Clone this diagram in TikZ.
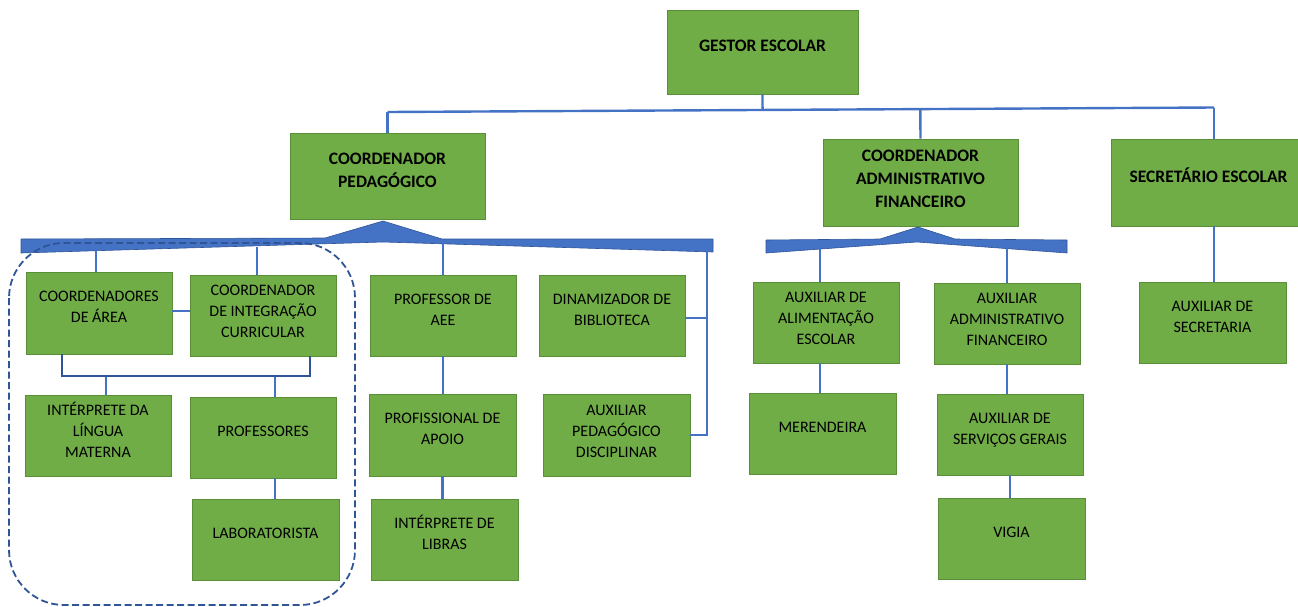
\documentclass[tikz,border=0pt]{standalone}
\usepackage{fontspec}
\setmainfont{Carlito}
\usetikzlibrary{calc}
\definecolor{boxfill}{HTML}{70AD47}
\definecolor{boxline}{HTML}{5A8F3A}
\definecolor{conn}{HTML}{4472C4}
\definecolor{dark}{HTML}{2F5597}
\newcommand\boxtext[2][5pt]{\raisebox{#1}[\height][\depth]{\begin{tabular}{@{}c@{}}#2\end{tabular}}}
\begin{document}
\begin{tikzpicture}[x=1pt,y=-1pt,
 box/.style={draw=boxline, fill=boxfill, line width=0.8pt, inner sep=0pt, font=\fontsize{16}{21}\selectfont},
 title/.style={box, font=\fontsize{17.5}{23}\selectfont\bfseries},
 sz/.style 2 args={minimum width=#1pt, minimum height=#2pt},
 link/.style={draw=conn, line width=2.4pt},
 brk/.style={draw=dark, line width=2.8pt},
 bar/.style={fill=conn, draw=dark, line width=0.6pt, line join=round},
 grp/.style={draw=dark, line width=1.8pt, dash pattern=on 7pt off 3.5pt, rounded corners=55pt}]
\useasboundingbox (0,0) rectangle (1298,606);
\clip (0,0) rectangle (1298,606);

% top level
\node[title, sz={191}{84}] (gestor) at (762.5,52) {\boxtext{GESTOR ESCOLAR}};
\node[title, sz={195}{86}] (cped) at (387.5,176) {\boxtext{COORDENADOR\\PEDAGÓGICO}};
\node[title, sz={195}{87}] (cadm) at (920.5,182.5) {\boxtext[3pt]{COORDENADOR\\ADMINISTRATIVO\\FINANCEIRO}};
\node[title, sz={195}{87}] (sec) at (1208.5,182.5) {\boxtext{SECRETÁRIO ESCOLAR}};

% left group
\node[box, sz={146}{82}] (carea) at (99,313) {\boxtext{COORDENADORES\\DE ÁREA}};
\node[box, sz={146}{81}] (cint) at (263,315.5) {\boxtext[3pt]{COORDENADOR\\DE INTEGRAÇÃO\\CURRICULAR}};
\node[box, sz={146}{81}] (interp) at (98,435.5) {\boxtext[3pt]{INTÉRPRETE DA\\LÍNGUA\\MATERNA}};
\node[box, sz={146}{81}] (prof) at (263,437.5) {\boxtext{PROFESSORES}};
\node[box, sz={147}{81}] (lab) at (265.5,539.5) {\boxtext{LABORATORISTA}};

% middle
\node[box, sz={146}{81}] (aee) at (443,315.5) {\boxtext{PROFESSOR DE\\AEE}};
\node[box, sz={147}{82}] (apoio) at (442.5,435) {\boxtext{PROFISSIONAL DE\\APOIO}};
\node[box, sz={147}{81}] (libras) at (444.5,539.5) {\boxtext{INTÉRPRETE DE\\LIBRAS}};
\node[box, sz={146}{81}] (dinam) at (612,315.5) {\boxtext{DINAMIZADOR DE\\BIBLIOTECA}};
\node[box, sz={147}{82}] (auxped) at (616.5,435) {\boxtext[3pt]{AUXILIAR\\PEDAGÓGICO\\DISCIPLINAR}};

% right
\node[box, sz={146}{81}] (alim) at (826,322.5) {\boxtext[3pt]{AUXILIAR DE\\ALIMENTAÇÃO\\ESCOLAR}};
\node[box, sz={147}{81}] (merend) at (822.5,433.5) {\boxtext{MERENDEIRA}};
\node[box, sz={146}{81}] (auxadm) at (1007,323.5) {\boxtext[3pt]{AUXILIAR\\ADMINISTRATIVO\\FINANCEIRO}};
\node[box, sz={146}{81}] (servg) at (1010,434.5) {\boxtext{AUXILIAR DE\\SERVIÇOS GERAIS}};
\node[box, sz={147}{81}] (vigia) at (1011.5,538.5) {\boxtext{VIGIA}};
\node[box, sz={147}{81}] (auxsec) at (1212.5,322.5) {\boxtext{AUXILIAR DE\\SECRETARIA}};

% top connectors
\coordinate (tl) at (cped.north |- 0,112);
\coordinate (tr) at (1214,107.5);
\draw[link] (tl) -- (tr);
\draw[link] (gestor.south) -- ($(tl)!(gestor.south)!(tr)$);
\draw[link] (tl) -- (cped.north);
\draw[link] ($(tl)!(cadm.north)!(tr)$) -- (cadm.north);
\draw[link] (tr) -- (tr |- sec.north);
\draw[link] (tr |- sec.south) -- (tr |- auxsec.north);

% bars
\draw[bar] (21,239) -- (325,238) -- (383,221) -- (442,239) -- (713,239) -- (713,252) -- (383,242) -- (21,253) -- cycle;
\draw[bar] (766,240) -- (880,239) -- (918,227) -- (955,239) -- (1067,240) -- (1067,253) -- (917,242) -- (766,253) -- cycle;

% left bar drops
\coordinate (b1) at (96,250);
\coordinate (b2) at (257,247);
\coordinate (b4) at (707,251);
\draw[link] (b1) -- (b1 |- carea.north);
\draw[link] (b2) -- (b2 |- cint.north);
\draw[link] (aee.north |- 0,243) -- (aee.north);
\draw[link] (b4) -- (b4 |- auxped.east) -- (auxped.east);
\draw[link] ($(dinam.east)+(0,2.5)$) -- ($(dinam.east -| b4)+(0,2.5)$);

% left group links
\draw[link] (carea.east |- 0,311) -- (cint.west |- 0,311);
\coordinate (kl) at (62,376);
\coordinate (kr) at (310,376);
\coordinate (d1) at (106,376);
\coordinate (d2) at (275,376);
\draw[link] (d1) -- (d1 |- interp.north);
\draw[link] (d2) -- (d2 |- prof.north);
\draw[link] (d2 |- prof.south) -- (d2 |- lab.north);
\draw[brk] (kl |- carea.south) -- (kl) -- (kr) -- (kr |- cint.south);

% middle links
\draw[link] (aee.south) -- (aee.south |- apoio.north);
\draw[link] (apoio.south) -- (apoio.south |- libras.north);

% right links
\coordinate (r1) at (820,249);
\draw[link] (r1) -- (r1 |- alim.north);
\draw[link] (r1 |- alim.south) -- (r1 |- merend.north);
\draw[link] (auxadm.north |- 0,248) -- (auxadm.north);
\draw[link] (auxadm.south) -- (auxadm.south |- servg.north);
\draw[link] (servg.south) -- (servg.south |- vigia.north);

% dashed group
\draw[grp] (9,243) rectangle (355,605);
\end{tikzpicture}
\end{document}
